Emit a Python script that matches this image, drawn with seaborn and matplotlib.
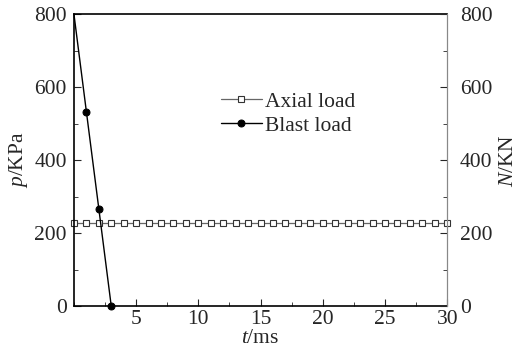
import numpy as np
import pandas as pd
import matplotlib
matplotlib.use("Agg")
import matplotlib.pyplot as plt
import seaborn as sns
from matplotlib.ticker import MultipleLocator

# Data
axial_t = list(range(0, 31))
axial_p = [227] * 31
blast_t = [0, 1, 2, 3]
blast_p = [800, 533, 267, 0]

sns.set_style("ticks")
plt.rcParams['font.family'] = ['Liberation Serif', 'DejaVu Serif']
plt.rcParams['mathtext.fontset'] = 'custom'
plt.rcParams['mathtext.it'] = 'Liberation Serif:italic'
plt.rcParams['mathtext.rm'] = 'Liberation Serif'

FS = 15.5

fig = plt.figure(figsize=(5.28, 3.51), dpi=100)
ax = fig.add_axes([0.140, 0.128, 0.707, 0.832])

df_a = pd.DataFrame({"t": axial_t, "p": axial_p})
df_b = pd.DataFrame({"t": blast_t, "p": blast_p})

sns.lineplot(data=df_a, x="t", y="p", ax=ax, color="#666666", lw=0.9,
             marker="s", markersize=4.2, markerfacecolor="white",
             markeredgecolor="#333333", markeredgewidth=0.8, label="Axial load",
             clip_on=False)
sns.lineplot(data=df_b, x="t", y="p", ax=ax, color="black", lw=1.0,
             marker="o", markersize=5, markerfacecolor="black",
             markeredgecolor="black", label="Blast load", markevery=[1, 2, 3],
             clip_on=False)

ax.set_xlim(0, 30)
ax.set_ylim(0, 800)
ax.set_xticks([5, 10, 15, 20, 25, 30])
ax.xaxis.set_minor_locator(MultipleLocator(2.5))
ax.yaxis.set_major_locator(MultipleLocator(200))
ax.yaxis.set_minor_locator(MultipleLocator(100))
ax.tick_params(which="both", direction="in", labelsize=FS, top=False, right=False)
ax.tick_params(which="major", length=5)
ax.tick_params(which="minor", length=3)
ax.tick_params(axis="x", pad=3)
ax.tick_params(axis="y", pad=5)
ax.set_xlabel(r"$\mathit{t}$/ms", fontsize=FS, labelpad=0)
ax.set_ylabel(r"$\mathit{p}$/KPa", fontsize=FS, labelpad=3)
for s in ["left", "bottom", "top"]:
    ax.spines[s].set_color("black")
    ax.spines[s].set_linewidth(1.2)
ax.spines["right"].set_color("#888888")

ax2 = ax.twinx()
ax2.set_ylim(0, 800)
ax2.yaxis.set_major_locator(MultipleLocator(200))
ax2.yaxis.set_minor_locator(MultipleLocator(100))
ax2.tick_params(which="both", direction="in", labelsize=FS, pad=9)
ax2.tick_params(which="major", length=5)
ax2.tick_params(which="minor", length=3)
ax2.set_ylabel(r"$\mathit{N}$/KN", fontsize=FS, labelpad=5)
for s in ax2.spines.values():
    s.set_visible(False)
ax2.spines["right"].set_visible(True)
ax2.spines["right"].set_color("#888888")

leg = ax.legend(loc="upper left", bbox_to_anchor=(0.371, 0.764), frameon=False,
                fontsize=FS, handlelength=1.9, handletextpad=0.15,
                labelspacing=0.2, borderaxespad=0)

fig.savefig("out.png", dpi=100)
